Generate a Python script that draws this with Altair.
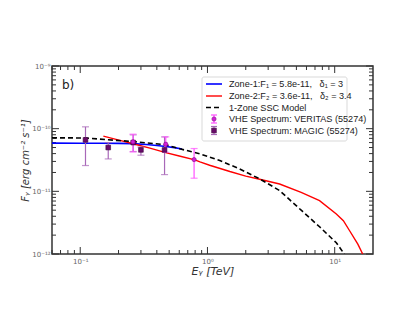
import altair as alt
import pandas as pd

# ---------------- data ----------------
zone1_E = [0.06, 0.1, 0.15, 0.2, 0.26, 0.33, 0.4, 0.47, 0.55, 0.63]
zone1_F = [5.87e-11, 5.86e-11, 5.84e-11, 5.82e-11, 5.78e-11, 5.6e-11, 5.4e-11, 5.19e-11, 4.98e-11, 4.75e-11]

zone2_E = [0.152, 0.205, 0.26, 0.353, 0.47, 0.6, 0.795, 0.873, 1.04, 1.5, 2.0, 2.57, 3.69, 5.45, 7.6, 10.3, 11.7, 13.1, 15.2, 16.6]
zone2_F = [7.6e-11, 6.5e-11, 5.75e-11, 4.9e-11, 4.15e-11, 3.66e-11, 3.18e-11, 2.95e-11, 2.61e-11, 2.07e-11, 1.75e-11,
           1.56e-11, 1.31e-11, 9.6e-12, 7.1e-12, 4.35e-12, 3.4e-12, 2.35e-12, 1.44e-12, 1.0e-12]

ssc_E = [0.06, 0.11, 0.166, 0.26, 0.47, 0.606, 0.873, 1.249, 1.79, 2.57, 3.69, 4.42, 5.62, 7.6, 10.3, 11.9]
ssc_F = [7.15e-11, 7.1e-11, 6.64e-11, 6.24e-11, 5.52e-11, 4.77e-11, 3.97e-11, 3.1e-11, 2.28e-11, 1.58e-11,
         1.03e-11, 7.36e-12, 4.73e-12, 2.72e-12, 1.51e-12, 1.0e-12]

veritas_E = [0.26, 0.47, 0.785]
veritas_F = [6.15e-11, 5.65e-11, 3.21e-11]
veritas_lo = [4.25e-11, 4.2e-11, 1.62e-11]
veritas_hi = [8.17e-11, 7.4e-11, 4.82e-11]

magic_E = [0.11, 0.166, 0.261, 0.30, 0.46]
magic_F = [6.62e-11, 5.0e-11, 6.0e-11, 4.58e-11, 4.58e-11]
magic_lo = [2.58e-11, 3.29e-11, 4.32e-11, 3.77e-11, 1.85e-11]
magic_hi = [1.07e-10, 6.0e-11, 7.96e-11, 5.1e-11, 7.39e-11]

x_major = [0.1, 1, 10]
x_minor = [0.06, 0.07, 0.08, 0.09, 0.2, 0.3, 0.4, 0.5, 0.6, 0.7, 0.8, 0.9, 2, 3, 4, 5, 6, 7, 8, 9]
y_major = [1e-12, 1e-11, 1e-10, 1e-9]
y_minor = [m * 10.0 ** e for e in (-12, -11, -10) for m in range(2, 10)]

legend_labels = [
    "Zone-1:F\u2081 = 5.8e-11,\u00a0\u00a0\u00a0\u03b4\u2081 = 3",
    "Zone-2:F\u2082 = 3.6e-11,\u00a0\u00a0\u00a0\u03b4\u2082 = 3.4",
    "1-Zone SSC Model",
    "VHE Spectrum: VERITAS (55274)",
    "VHE Spectrum: MAGIC (55274)",
]
panel_label = "b)"
x_title = "E\u1d67 [TeV]"
y_title = "F\u1d67 [erg cm\u207b\u00b2 s\u207b\u00b9]"

# ---------------- chart ----------------
W, H = 321, 188
FONT = "Liberation Sans Narrow, Liberation Sans, DejaVu Sans"
FRAME = "#333333"

xscale = alt.Scale(type="log", domain=[0.06, 20], nice=False)
yscale = alt.Scale(type="log", domain=[1e-12, 1e-9], nice=False)

xaxis = alt.Axis(values=x_major, ticks=False, domain=False, grid=False,
                 labelExpr="datum.value > 5 ? '10\u00b9' : datum.value > 0.5 ? '10\u2070' : '10\u207b\u00b9'",
                 labelFontSize=7, labelColor="#666", labelPadding=3, labelFont="DejaVu Sans",
                 title=x_title, titleFontSize=11, titleFontWeight="normal", titleFontStyle="italic",
                 titleColor="#333", titlePadding=1, titleFont="DejaVu Sans")
yaxis = alt.Axis(values=y_major, ticks=False, domain=False, grid=False,
                 labelExpr="datum.value > 5e-10 ? '10\u207b\u2079' : datum.value > 5e-11 ? '10\u207b\u00b9\u2070' : datum.value > 5e-12 ? '10\u207b\u00b9\u00b9' : '10\u207b\u00b9\u00b2'",
                 labelFontSize=7, labelColor="#666", labelPadding=2, labelFont="DejaVu Sans",
                 title=y_title, titleFontSize=10, titleFontWeight="normal", titleFontStyle="italic",
                 titleColor="#333", titlePadding=1, titleFont="DejaVu Sans")

X = alt.X("E:Q", scale=xscale, axis=xaxis)
Y = alt.Y("F:Q", scale=yscale, axis=yaxis)

def line_df(E, F):
    return pd.DataFrame({"E": E, "F": F})

zone1 = alt.Chart(line_df(zone1_E, zone1_F)).mark_line(color="#0000ff", strokeWidth=1.6, clip=True).encode(x=X, y=Y)
zone2 = alt.Chart(line_df(zone2_E, zone2_F)).mark_line(color="#ff0000", strokeWidth=1.4, clip=True).encode(x=X, y=Y)
ssc = alt.Chart(line_df(ssc_E, ssc_F)).mark_line(color="black", strokeWidth=1.6, strokeDash=[5, 3], clip=True).encode(x=X, y=Y)

ver_df = pd.DataFrame({"E": veritas_E, "F": veritas_F, "lo": veritas_lo, "hi": veritas_hi})
mag_df = pd.DataFrame({"E": magic_E, "F": magic_F, "lo": magic_lo, "hi": magic_hi})

MAG_BAR = "#a868b8"
VER_BAR = "#ff50ff"

def errbars(df, color):
    base = alt.Chart(df)
    bar = base.mark_rule(color=color, strokeWidth=1.2).encode(x=X, y=alt.Y("lo:Q", scale=yscale, axis=yaxis), y2="hi:Q")
    cap_lo = base.mark_tick(color=color, orient="horizontal", size=7, thickness=1.2).encode(x=X, y=alt.Y("lo:Q", scale=yscale, axis=yaxis))
    cap_hi = base.mark_tick(color=color, orient="horizontal", size=7, thickness=1.2).encode(x=X, y=alt.Y("hi:Q", scale=yscale, axis=yaxis))
    return [bar, cap_lo, cap_hi]

mag_pts = alt.Chart(mag_df).mark_point(shape="square", filled=True, size=22, color="#6a0a6a", opacity=1,
                                       stroke="#3a003a", strokeWidth=0.6).encode(x=X, y=Y)
ver_pts = alt.Chart(ver_df).mark_point(shape="circle", filled=True, size=18, color="#d020d8", opacity=1,
                                       stroke="#8a008a", strokeWidth=0.6).encode(x=X, y=Y)

# inward ticks on all four sides
def tdf(v, col):
    return pd.DataFrame({col: v})

ticks = []
for vals, ln in ((x_major, 7), (x_minor, 4)):
    d = alt.Chart(tdf(vals, "E"))
    ticks.append(d.mark_rule(color=FRAME, strokeWidth=1).encode(x=X, y=alt.value(H), y2=alt.value(H - ln)))
    ticks.append(d.mark_rule(color=FRAME, strokeWidth=1).encode(x=X, y=alt.value(0), y2=alt.value(ln)))
for vals, ln in ((y_major, 7), (y_minor, 4)):
    d = alt.Chart(tdf(vals, "F"))
    ticks.append(d.mark_rule(color=FRAME, strokeWidth=1).encode(y=Y, x=alt.value(0), x2=alt.value(ln)))
    ticks.append(d.mark_rule(color=FRAME, strokeWidth=1).encode(y=Y, x=alt.value(W), x2=alt.value(W - ln)))

one = alt.Chart(pd.DataFrame({"k": [0]}))

# legend (drawn by hand, matplotlib style)
LX0, LX1, LY0, LY1 = 150, 295, 11, 75
rows = [18, 30, 41.5, 53, 64.5]
HX0, HX1, TX = 154, 170, 177
legend = [one.mark_rect(fill="white", stroke="#d6d6d6", strokeWidth=1, cornerRadius=2, opacity=0.9).encode(
    x=alt.value(LX0), x2=alt.value(LX1), y=alt.value(LY0), y2=alt.value(LY1))]
legend.append(one.mark_rule(color="#0000ff", strokeWidth=1.6).encode(x=alt.value(HX0), x2=alt.value(HX1), y=alt.value(rows[0])))
legend.append(one.mark_rule(color="#ff0000", strokeWidth=1.4).encode(x=alt.value(HX0), x2=alt.value(HX1), y=alt.value(rows[1])))
legend.append(one.mark_rule(color="black", strokeWidth=1.6, strokeDash=[5, 3]).encode(x=alt.value(HX0), x2=alt.value(HX1), y=alt.value(rows[2])))
for r, bcol, shape, fcol, scol, sz in ((rows[3], VER_BAR, "circle", "#d020d8", "#8a008a", 18),
                                       (rows[4], MAG_BAR, "square", "#6a0a6a", "#3a003a", 22)):
    cx = (HX0 + HX1) / 2
    legend.append(one.mark_rule(color=bcol, strokeWidth=1.2).encode(x=alt.value(cx), y=alt.value(r - 4), y2=alt.value(r + 4)))
    legend.append(one.mark_rule(color=bcol, strokeWidth=1.2).encode(x=alt.value(cx - 3), x2=alt.value(cx + 3), y=alt.value(r - 4)))
    legend.append(one.mark_rule(color=bcol, strokeWidth=1.2).encode(x=alt.value(cx - 3), x2=alt.value(cx + 3), y=alt.value(r + 4)))
    legend.append(one.mark_point(shape=shape, filled=True, size=sz, color=fcol, opacity=1, stroke=scol, strokeWidth=0.6).encode(
        x=alt.value(cx), y=alt.value(r)))
for r, lab in zip(rows, legend_labels):
    legend.append(one.mark_text(text=lab, align="left", baseline="middle", font=FONT, fontSize=9.1, color="#222").encode(
        x=alt.value(TX), y=alt.value(r)))

panel = one.mark_text(text=panel_label, align="left", baseline="middle", font="DejaVu Sans", fontSize=12, color="#222").encode(
    x=alt.value(10), y=alt.value(19))

layers = ticks + [zone1, zone2, ssc] + errbars(mag_df, MAG_BAR) + errbars(ver_df, VER_BAR) + [mag_pts, ver_pts] + legend + [panel]

chart = alt.layer(*layers).properties(
    width=W, height=H,
    autosize=alt.AutoSizeParams(type="none"),
    padding={"left": 44, "top": 58, "right": 34, "bottom": 59},
    background="white",
).configure_view(stroke=FRAME, strokeWidth=1.5)

chart.save("out.html", embed_options={"renderer": "svg", "actions": False})
